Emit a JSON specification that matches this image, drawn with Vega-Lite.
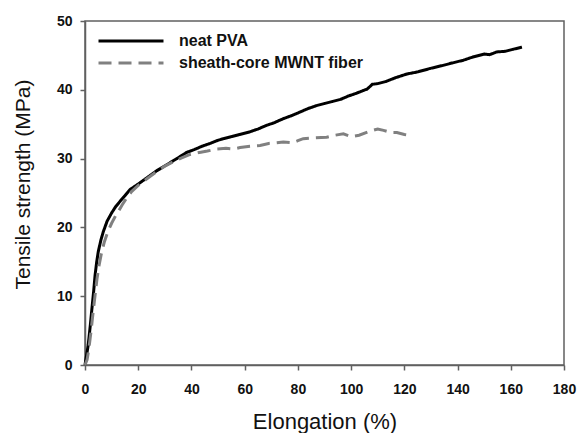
{
  "$schema": "https://vega.github.io/schema/vega-lite/v6.json",
  "width": 479,
  "height": 344,
  "autosize": {"type": "none"},
  "padding": {"left": 85, "top": 21, "right": 14, "bottom": 68},
  "background": "white",
  "config": {
    "view": {"stroke": "#606060", "strokeWidth": 1.5},
    "font": "Liberation Sans"
  },
  "data": {
    "values": [
      {"series": "neat PVA", "x": 0, "y": 0},
      {"series": "neat PVA", "x": 0.5, "y": 1.2},
      {"series": "neat PVA", "x": 1.2, "y": 2.9},
      {"series": "neat PVA", "x": 2.0, "y": 5.8},
      {"series": "neat PVA", "x": 2.5, "y": 7.8},
      {"series": "neat PVA", "x": 3.2, "y": 10.5},
      {"series": "neat PVA", "x": 3.8, "y": 13.1},
      {"series": "neat PVA", "x": 4.4, "y": 15.0},
      {"series": "neat PVA", "x": 5.0, "y": 16.5},
      {"series": "neat PVA", "x": 6.0, "y": 18.2},
      {"series": "neat PVA", "x": 6.9, "y": 19.4},
      {"series": "neat PVA", "x": 8.3, "y": 20.9},
      {"series": "neat PVA", "x": 10.0, "y": 22.1},
      {"series": "neat PVA", "x": 11.5, "y": 23.0},
      {"series": "neat PVA", "x": 13.2, "y": 23.8},
      {"series": "neat PVA", "x": 15.0, "y": 24.6},
      {"series": "neat PVA", "x": 16.9, "y": 25.5},
      {"series": "neat PVA", "x": 20.0, "y": 26.3},
      {"series": "neat PVA", "x": 23.2, "y": 27.2},
      {"series": "neat PVA", "x": 26.8, "y": 28.2},
      {"series": "neat PVA", "x": 30.7, "y": 29.1},
      {"series": "neat PVA", "x": 34.5, "y": 30.0},
      {"series": "neat PVA", "x": 38.2, "y": 30.9},
      {"series": "neat PVA", "x": 41.0, "y": 31.3},
      {"series": "neat PVA", "x": 44.0, "y": 31.8},
      {"series": "neat PVA", "x": 47.0, "y": 32.2},
      {"series": "neat PVA", "x": 49.5, "y": 32.6},
      {"series": "neat PVA", "x": 52.0, "y": 32.9},
      {"series": "neat PVA", "x": 55.0, "y": 33.2},
      {"series": "neat PVA", "x": 58.0, "y": 33.5},
      {"series": "neat PVA", "x": 62.0, "y": 33.9},
      {"series": "neat PVA", "x": 65.0, "y": 34.3},
      {"series": "neat PVA", "x": 68.0, "y": 34.8},
      {"series": "neat PVA", "x": 71.0, "y": 35.2},
      {"series": "neat PVA", "x": 74.5, "y": 35.8},
      {"series": "neat PVA", "x": 78.0, "y": 36.3},
      {"series": "neat PVA", "x": 81.0, "y": 36.8},
      {"series": "neat PVA", "x": 84.0, "y": 37.3},
      {"series": "neat PVA", "x": 87.0, "y": 37.7},
      {"series": "neat PVA", "x": 90.0, "y": 38.0},
      {"series": "neat PVA", "x": 93.0, "y": 38.3},
      {"series": "neat PVA", "x": 96.0, "y": 38.6},
      {"series": "neat PVA", "x": 99.0, "y": 39.1},
      {"series": "neat PVA", "x": 102.0, "y": 39.5},
      {"series": "neat PVA", "x": 104.6, "y": 39.9},
      {"series": "neat PVA", "x": 106.0, "y": 40.1},
      {"series": "neat PVA", "x": 108.0, "y": 40.8},
      {"series": "neat PVA", "x": 110.0, "y": 40.9},
      {"series": "neat PVA", "x": 113.0, "y": 41.2},
      {"series": "neat PVA", "x": 117.0, "y": 41.8},
      {"series": "neat PVA", "x": 121.0, "y": 42.3},
      {"series": "neat PVA", "x": 125.0, "y": 42.6},
      {"series": "neat PVA", "x": 129.7, "y": 43.1},
      {"series": "neat PVA", "x": 134.0, "y": 43.5},
      {"series": "neat PVA", "x": 138.0, "y": 43.9},
      {"series": "neat PVA", "x": 142.2, "y": 44.3},
      {"series": "neat PVA", "x": 146.0, "y": 44.8},
      {"series": "neat PVA", "x": 150.0, "y": 45.2},
      {"series": "neat PVA", "x": 152.0, "y": 45.1},
      {"series": "neat PVA", "x": 154.7, "y": 45.5},
      {"series": "neat PVA", "x": 158.0, "y": 45.6},
      {"series": "neat PVA", "x": 161.0, "y": 45.9},
      {"series": "neat PVA", "x": 164.2, "y": 46.2},
      {"series": "sheath-core MWNT fiber", "x": 0, "y": 0},
      {"series": "sheath-core MWNT fiber", "x": 0.8, "y": 0.8},
      {"series": "sheath-core MWNT fiber", "x": 1.5, "y": 2.5},
      {"series": "sheath-core MWNT fiber", "x": 2.3, "y": 5.0},
      {"series": "sheath-core MWNT fiber", "x": 3.0, "y": 7.5},
      {"series": "sheath-core MWNT fiber", "x": 3.8, "y": 10.2},
      {"series": "sheath-core MWNT fiber", "x": 4.5, "y": 12.5},
      {"series": "sheath-core MWNT fiber", "x": 5.3, "y": 14.5},
      {"series": "sheath-core MWNT fiber", "x": 6.2, "y": 16.3},
      {"series": "sheath-core MWNT fiber", "x": 7.2, "y": 17.8},
      {"series": "sheath-core MWNT fiber", "x": 8.5, "y": 19.3},
      {"series": "sheath-core MWNT fiber", "x": 10.0, "y": 20.6},
      {"series": "sheath-core MWNT fiber", "x": 11.5, "y": 21.7},
      {"series": "sheath-core MWNT fiber", "x": 12.5, "y": 22.3},
      {"series": "sheath-core MWNT fiber", "x": 14.0, "y": 23.3},
      {"series": "sheath-core MWNT fiber", "x": 15.5, "y": 24.2},
      {"series": "sheath-core MWNT fiber", "x": 17.5, "y": 25.2},
      {"series": "sheath-core MWNT fiber", "x": 20.0, "y": 26.1},
      {"series": "sheath-core MWNT fiber", "x": 23.0, "y": 27.0},
      {"series": "sheath-core MWNT fiber", "x": 26.5, "y": 28.0},
      {"series": "sheath-core MWNT fiber", "x": 30.0, "y": 28.9},
      {"series": "sheath-core MWNT fiber", "x": 34.0, "y": 29.7},
      {"series": "sheath-core MWNT fiber", "x": 37.0, "y": 30.2},
      {"series": "sheath-core MWNT fiber", "x": 39.5, "y": 30.6},
      {"series": "sheath-core MWNT fiber", "x": 43.0, "y": 30.9},
      {"series": "sheath-core MWNT fiber", "x": 46.0, "y": 31.1},
      {"series": "sheath-core MWNT fiber", "x": 49.5, "y": 31.4},
      {"series": "sheath-core MWNT fiber", "x": 53.0, "y": 31.5},
      {"series": "sheath-core MWNT fiber", "x": 56.0, "y": 31.4},
      {"series": "sheath-core MWNT fiber", "x": 58.3, "y": 31.6},
      {"series": "sheath-core MWNT fiber", "x": 62.0, "y": 31.8},
      {"series": "sheath-core MWNT fiber", "x": 65.8, "y": 31.9},
      {"series": "sheath-core MWNT fiber", "x": 69.0, "y": 32.2},
      {"series": "sheath-core MWNT fiber", "x": 72.0, "y": 32.3},
      {"series": "sheath-core MWNT fiber", "x": 74.5, "y": 32.4},
      {"series": "sheath-core MWNT fiber", "x": 78.0, "y": 32.3},
      {"series": "sheath-core MWNT fiber", "x": 80.0, "y": 32.6},
      {"series": "sheath-core MWNT fiber", "x": 82.0, "y": 32.9},
      {"series": "sheath-core MWNT fiber", "x": 86.0, "y": 33.0},
      {"series": "sheath-core MWNT fiber", "x": 90.8, "y": 33.1},
      {"series": "sheath-core MWNT fiber", "x": 94.0, "y": 33.4},
      {"series": "sheath-core MWNT fiber", "x": 97.1, "y": 33.6},
      {"series": "sheath-core MWNT fiber", "x": 100.0, "y": 33.2},
      {"series": "sheath-core MWNT fiber", "x": 103.0, "y": 33.4},
      {"series": "sheath-core MWNT fiber", "x": 107.2, "y": 34.0},
      {"series": "sheath-core MWNT fiber", "x": 110.0, "y": 34.3},
      {"series": "sheath-core MWNT fiber", "x": 112.2, "y": 34.1},
      {"series": "sheath-core MWNT fiber", "x": 115.0, "y": 33.8},
      {"series": "sheath-core MWNT fiber", "x": 117.2, "y": 33.8},
      {"series": "sheath-core MWNT fiber", "x": 120.0, "y": 33.5},
      {"series": "sheath-core MWNT fiber", "x": 122.0, "y": 33.4}
    ]
  },
  "mark": {"type": "line", "strokeWidth": 3, "strokeCap": "butt"},
  "encoding": {
    "x": {
      "field": "x",
      "type": "quantitative",
      "scale": {"domain": [0, 180], "nice": false, "zero": false},
      "axis": {
        "title": "Elongation (%)",
        "values": [0, 20, 40, 60, 80, 100, 120, 140, 160, 180],
        "grid": false,
        "domainColor": "#606060",
        "domainWidth": 1.5,
        "tickColor": "#606060",
        "tickWidth": 1.5,
        "tickSize": 5,
        "labelFont": "Liberation Sans",
        "labelFontSize": 14,
        "labelFontWeight": "bold",
        "labelColor": "#111111",
        "labelPadding": 12,
        "labelOverlap": false,
        "labelFlush": false,
        "labelBound": false,
        "titleFont": "Liberation Sans",
        "titleFontSize": 22,
        "titleFontWeight": "normal",
        "titleColor": "#111111",
        "titleBaseline": "alphabetic",
        "titleY": 63
      }
    },
    "y": {
      "field": "y",
      "type": "quantitative",
      "scale": {"domain": [0, 50], "nice": false, "zero": false},
      "axis": {
        "title": "Tensile strength (MPa)",
        "values": [0, 10, 20, 30, 40, 50],
        "grid": false,
        "domainColor": "#606060",
        "domainWidth": 1.5,
        "tickColor": "#606060",
        "tickWidth": 1.5,
        "tickSize": 5,
        "labelFont": "Liberation Sans",
        "labelFontSize": 14,
        "labelFontWeight": "bold",
        "labelColor": "#111111",
        "labelPadding": 8,
        "labelOverlap": false,
        "labelFlush": false,
        "labelBound": false,
        "titleFont": "Liberation Sans",
        "titleFontSize": 21,
        "titleFontWeight": "normal",
        "titleColor": "#111111",
        "titleAngle": -90,
        "titleAlign": "center",
        "titleBaseline": "bottom",
        "titleX": -52,
        "titleY": 163
      }
    },
    "color": {
      "field": "series",
      "type": "nominal",
      "scale": {"domain": ["neat PVA", "sheath-core MWNT fiber"], "range": ["#000000", "#808080"]},
      "legend": {
        "title": null,
        "orient": "none",
        "legendX": 36,
        "legendY": 10,
        "padding": 0,
        "symbolType": "M-4,0H4",
        "symbolSize": 264,
        "symbolStrokeWidth": 3,
        "labelFont": "Liberation Sans",
        "labelFontSize": 16,
        "labelFontWeight": "bold",
        "labelColor": "#111111",
        "labelOffset": 38,
        "labelLimit": 400,
        "rowPadding": 4
      }
    },
    "strokeDash": {
      "field": "series",
      "type": "nominal",
      "scale": {"domain": ["neat PVA", "sheath-core MWNT fiber"], "range": [[1, 0], [13, 7]]},
      "legend": {
        "title": null,
        "orient": "none",
        "legendX": 36,
        "legendY": 10,
        "padding": 0,
        "symbolType": "M-4,0H4",
        "symbolSize": 264,
        "symbolStrokeWidth": 3,
        "labelFont": "Liberation Sans",
        "labelFontSize": 16,
        "labelFontWeight": "bold",
        "labelColor": "#111111",
        "labelOffset": 38,
        "labelLimit": 400,
        "rowPadding": 4
      }
    }
  }
}
